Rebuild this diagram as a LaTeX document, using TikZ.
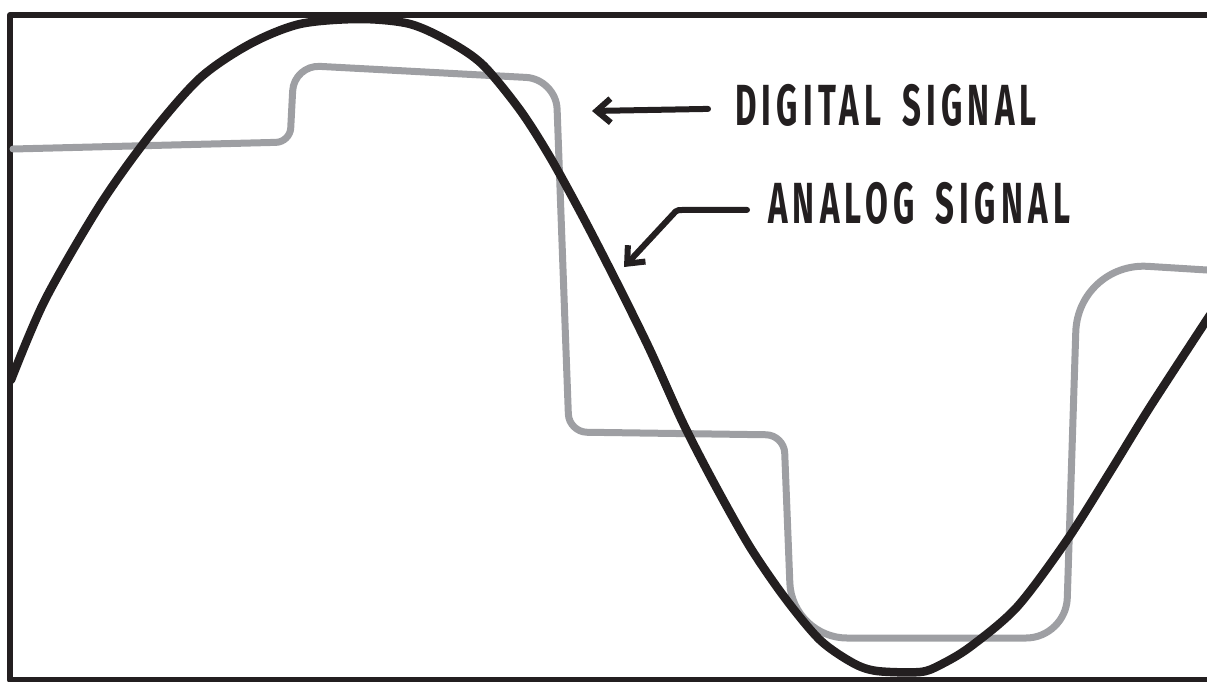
\documentclass[tikz,border=0pt]{standalone}
\usepackage{fontspec}
\newfontfamily\handfont[FakeStretch=0.57,LetterSpace=9,WordSpace=1.6]{Fira Sans}
\usetikzlibrary{arrows.meta}
\definecolor{inkdark}{RGB}{35,31,32}
\definecolor{siggray}{RGB}{158,159,163}

\begin{document}
\begin{tikzpicture}[x=1pt,y=-1pt,line cap=round,line join=round,
  pointer/.style={inkdark,line width=6pt,-{Straight Barb[length=14pt,width=24pt]}},
  lbl/.style={inkdark,inner sep=0pt,anchor=base west,font=\handfont\bfseries\fontsize{58}{60}\selectfont}]
  \useasboundingbox (0,0) rectangle (1207,681);
  \clip (0,0) rectangle (1207,681);
  % marco
  \draw[inkdark,line width=6pt] (1215,15) -- (10,15) -- (10,680) -- (1215,680);
  % senal digital
  \draw[siggray,line width=7pt] (13,149) [rounded corners=14pt] -- (290,142)
    [rounded corners=26pt] -- (294,65) [rounded corners=30pt] -- (556,79)
    [rounded corners=18pt] -- (569,432) [rounded corners=18pt] -- (784,435)
    [rounded corners=55pt] -- (792,638) [rounded corners=40pt] -- (1066,638)
    [rounded corners=70pt] -- (1078,262) -- (1207,270);
  % senal analogica
  \draw[inkdark,line width=8.5pt] plot[smooth,tension=0.5] coordinates {
    (11,380) (45,300) (100,205) (150,135) (200,78) (250,44) (300,24) (360,19)
    (410,24) (450,42) (483,65) (520,110) (550,157) (583,217) (617,283)
    (650,350) (683,423) (715,485) (750,547) (785,598) (820,640) (853,663)
    (877,671) (920,672) (940,665) (970,647) (1017,607) (1067,540) (1110,472)
    (1150,407) (1210,315)};
  % etiquetas
  \node[lbl] (dlabel) at (735,125) {DIGITAL SIGNAL};
  \node[lbl] (alabel) at (768,223) {ANALOG SIGNAL};
  \coordinate (dtip) at (592,111);
  \coordinate (abend) at (677,210);
  \coordinate (atip) at (624,267);
  \draw[pointer] ([xshift=-27pt,yshift=-4pt]dlabel.west) -- (dtip);
  \draw[pointer,rounded corners=2pt] ([xshift=-21pt,yshift=-7pt]alabel.west) -- (abend) -- (atip);
\end{tikzpicture}
\end{document}
